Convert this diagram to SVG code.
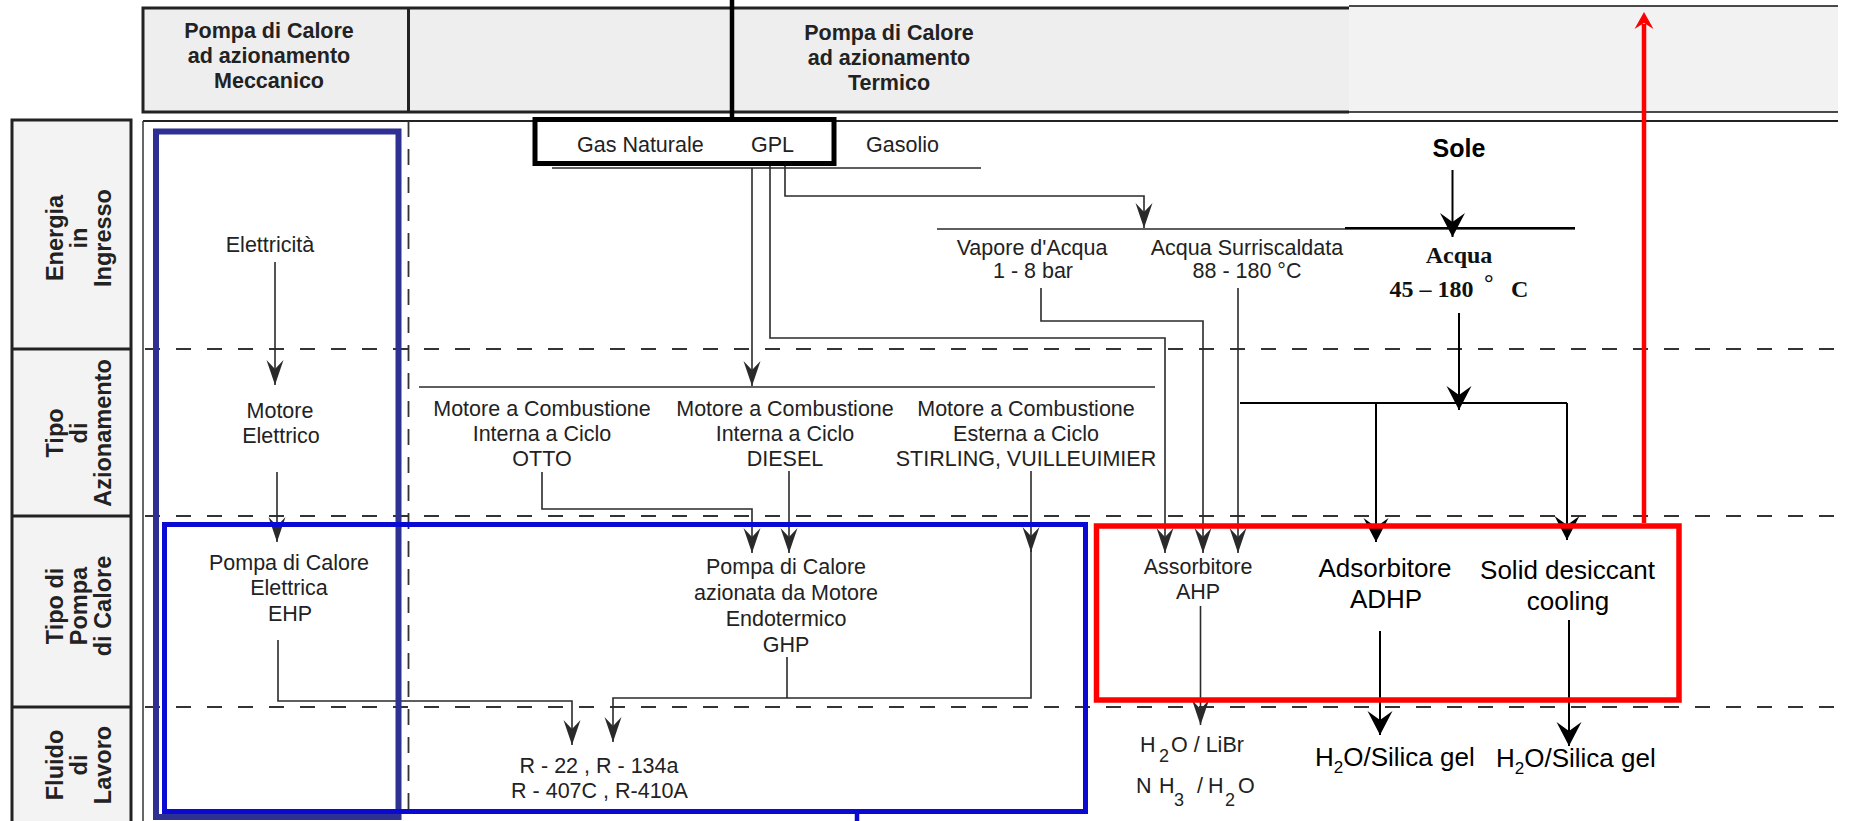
<svg xmlns="http://www.w3.org/2000/svg" width="1849" height="821" viewBox="0 0 1849 821">
<defs>
<style>
.t{font-family:"Liberation Sans",Arial,sans-serif;font-size:21.5px;fill:#222;text-anchor:middle}
.b{font-weight:bold}
.lb{font-family:"Liberation Sans",Arial,sans-serif;font-size:23.5px;font-weight:bold;fill:#222;text-anchor:middle}
.n{font-family:"Liberation Sans",Arial,sans-serif;font-size:26px;fill:#000;text-anchor:middle}
.ns{font-family:"Liberation Sans",Arial,sans-serif;font-size:26px;fill:#000}
.sr{font-family:"Liberation Serif","Times New Roman",serif;font-size:24px;font-weight:bold;fill:#111}
.ln{fill:none;stroke:#2a2a2a;stroke-width:1.6}
.lk{fill:none;stroke:#000;stroke-width:2}
.dh{fill:none;stroke:#333;stroke-width:1.8;stroke-dasharray:15 16}
.dv{fill:none;stroke:#333;stroke-width:1.8;stroke-dasharray:16 12}
.hd{fill:none;stroke:#222;stroke-width:3}
</style>
<marker id="ah" viewBox="-27 -10 29 20" refX="0" refY="0" markerWidth="29" markerHeight="20" markerUnits="userSpaceOnUse" orient="auto"><path d="M0,0 L-25,-8.5 L-16,0 L-25,8.5 Z" fill="#2a2a2a"/></marker>
<marker id="ak" viewBox="-26 -14 28 28" refX="0" refY="0" markerWidth="28" markerHeight="28" markerUnits="userSpaceOnUse" orient="auto"><path d="M0,0 L-24,-12.5 L-15,0 L-24,12.5 Z" fill="#000"/></marker>
<marker id="ar" viewBox="-20 -11 22 22" refX="-12" refY="0" markerWidth="22" markerHeight="22" markerUnits="userSpaceOnUse" orient="auto"><path d="M0,0 L-17,-9.5 L-11,0 L-17,9.5 Z" fill="#ff0000"/></marker>
</defs>
<rect width="1849" height="821" fill="#ffffff"/>

<!-- header -->
<g id="header">
<rect x="143" y="8" width="1206" height="104" fill="#eeeeee"/>
<rect x="1349" y="6" width="489" height="106" fill="#f2f2f2"/>
<path class="hd" d="M143,8 H1349 M143,112 H1349 M143,6.5 V113.5 M408.5,8 V112"/>
<path d="M1349,6 H1838 M1349,112 H1838" stroke="#111" stroke-width="1.6" fill="none"/>
<path d="M143,121 H1838" stroke="#222" stroke-width="2" fill="none"/>
<text class="t b" x="269" y="38">Pompa di Calore</text>
<text class="t b" x="269" y="63">ad azionamento</text>
<text class="t b" x="269" y="88">Meccanico</text>
<text class="t b" x="889" y="40">Pompa di Calore</text>
<text class="t b" x="889" y="65">ad azionamento</text>
<text class="t b" x="889" y="90">Termico</text>
</g>

<!-- row labels -->
<g id="labels">
<rect x="12" y="120" width="119" height="705" fill="#f3f3f3" stroke="#222" stroke-width="3"/>
<path d="M12,349 H131 M12,516 H131 M12,707 H131" stroke="#222" stroke-width="3" fill="none"/>
<g transform="translate(0,238) rotate(-90)">
<text class="lb" x="0" y="63">Energia</text><text class="lb" x="0" y="87">in</text><text class="lb" x="0" y="111">Ingresso</text>
</g>
<g transform="translate(0,433) rotate(-90)">
<text class="lb" x="0" y="63">Tipo</text><text class="lb" x="0" y="87">di</text><text class="lb" x="0" y="111">Azionamento</text>
</g>
<g transform="translate(0,606) rotate(-90)">
<text class="lb" x="0" y="63">Tipo di</text><text class="lb" x="0" y="87">Pompa</text><text class="lb" x="0" y="111">di Calore</text>
</g>
<g transform="translate(0,765) rotate(-90)">
<text class="lb" x="0" y="63">Fluido</text><text class="lb" x="0" y="87">di</text><text class="lb" x="0" y="111">Lavoro</text>
</g>
</g>

<!-- grid -->
<g id="grid">
<path d="M143,121 V821" stroke="#333" stroke-width="1.5" fill="none"/>
<path class="dv" d="M408.5,121 V821"/>
<path class="dh" d="M145,349 H1834 M145,516 H1834 M145,707 H1834"/>
</g>

<!-- connectors -->
<g id="connectors">
<path class="ln" d="M552,168 H981"/>
<path class="ln" d="M937,229 H1575"/>
<path class="ln" d="M419,387 H1155"/>
<path class="ln" d="M752,168 V386" marker-end="url(#ah)"/>
<path class="ln" d="M770,166 V338 H1165 V553" marker-end="url(#ah)"/>
<path class="ln" d="M785,166 V196 H1144 V228" marker-end="url(#ah)"/>
<path class="ln" d="M1041,288 V321 H1203 V553" marker-end="url(#ah)"/>
<path class="ln" d="M1238,288 V553" marker-end="url(#ah)"/>
<path class="ln" d="M275,262 V385" marker-end="url(#ah)"/>
<path class="ln" d="M277,472 V542" marker-end="url(#ah)"/>
<path class="ln" d="M542,472 V509 H752 V553" marker-end="url(#ah)"/>
<path class="ln" d="M789,471 V553" marker-end="url(#ah)"/>
<path class="ln" d="M1031,471 V552" marker-end="url(#ah)"/>
<path class="ln" d="M1031,550 V698 H613 V742" marker-end="url(#ah)"/>
<path class="ln" d="M787,657 V698"/>
<path class="ln" d="M278,640 V701 H572 V745" marker-end="url(#ah)"/>
<path class="ln" d="M1200.5,606 V725" marker-end="url(#ah)"/>
<path class="lk" d="M1345,228 H1575"/>
<path class="lk" d="M1452.5,170 V237" marker-end="url(#ak)"/>
<path class="lk" d="M1459,313 V410" marker-end="url(#ak)"/>
<path class="lk" d="M1240,403 H1567"/>
<path class="lk" d="M1376,403 V542" marker-end="url(#ak)"/>
<path class="lk" d="M1567,403 V540" marker-end="url(#ak)"/>
<path class="lk" d="M1380,631 V735" marker-end="url(#ak)"/>
<path class="lk" d="M1569,620 V746" marker-end="url(#ak)"/>
<path d="M732,0 V119" stroke="#000" stroke-width="4.5" fill="none"/>
<path d="M1644,523 V24" stroke="#ff0000" stroke-width="4.5" fill="none" marker-end="url(#ar)"/>
</g>

<!-- nodes -->
<g id="n-gas">
<rect x="535" y="119.5" width="299" height="44" fill="none" stroke="#000" stroke-width="5"/>
<text class="t" x="577" y="152" style="text-anchor:start">Gas Naturale</text>
<text class="t" x="751" y="152" style="text-anchor:start">GPL</text>
</g>
<g id="n-gasolio"><text class="t" x="866" y="152" style="text-anchor:start">Gasolio</text></g>
<g id="n-elettricita"><text class="t" x="270" y="252">Elettricità</text></g>
<g id="n-vapore"><text class="t" x="1032" y="255">Vapore d'Acqua</text><text class="t" x="1033" y="278">1 - 8 bar</text></g>
<g id="n-acqua-surr"><text class="t" x="1247" y="255">Acqua Surriscaldata</text><text class="t" x="1247" y="278">88 - 180 °C</text></g>
<g id="n-sole"><text class="t b" x="1459" y="157" style="font-size:25px;fill:#000">Sole</text></g>
<g id="n-acqua">
<text class="sr" x="1459" y="263" text-anchor="middle">Acqua</text>
<text class="sr" x="1389.5" y="297">45 – 180</text>
<text class="sr" x="1484" y="291">°</text>
<text class="sr" x="1511" y="297">C</text>
</g>
<g id="n-motore-el"><text class="t" x="280" y="418">Motore</text><text class="t" x="281" y="443">Elettrico</text></g>
<g id="n-otto"><text class="t" x="542" y="416">Motore a Combustione</text><text class="t" x="542" y="441">Interna a Ciclo</text><text class="t" x="542" y="466">OTTO</text></g>
<g id="n-diesel"><text class="t" x="785" y="416">Motore a Combustione</text><text class="t" x="785" y="441">Interna a Ciclo</text><text class="t" x="785" y="466">DIESEL</text></g>
<g id="n-stirling"><text class="t" x="1026" y="416">Motore a Combustione</text><text class="t" x="1026" y="441">Esterna a Ciclo</text><text class="t" x="1026" y="466">STIRLING, VUILLEUIMIER</text></g>
<g id="n-ehp"><text class="t" x="289" y="570">Pompa di Calore</text><text class="t" x="289" y="595">Elettrica</text><text class="t" x="290" y="621">EHP</text></g>
<g id="n-ghp"><text class="t" x="786" y="574">Pompa di Calore</text><text class="t" x="786" y="600">azionata da Motore</text><text class="t" x="786" y="626">Endotermico</text><text class="t" x="786" y="652">GHP</text></g>
<g id="n-ahp"><text class="t" x="1198" y="574">Assorbitore</text><text class="t" x="1198" y="599">AHP</text></g>
<g id="n-adhp"><text class="n" x="1385" y="577">Adsorbitore</text><text class="n" x="1386" y="608">ADHP</text></g>
<g id="n-solid"><text class="n" x="1567.5" y="579">Solid desiccant</text><text class="n" x="1568" y="610">cooling</text></g>
<g id="n-refrig"><text class="t" x="599" y="773">R - 22 , R - 134a</text><text class="t" x="599.5" y="798">R - 407C , R-410A</text></g>
<g id="n-libr">
<text class="t" style="text-anchor:start" x="1140" y="752">H<tspan x="1159" y="762" style="font-size:18px">2</tspan><tspan x="1171" y="752">O / LiBr</tspan></text>
<text class="t" style="text-anchor:start" x="1136" y="793">N<tspan x="1159" y="793">H</tspan><tspan x="1174" y="806" style="font-size:18px">3</tspan><tspan x="1197" y="793">/</tspan><tspan x="1208" y="793">H</tspan><tspan x="1225" y="806" style="font-size:18px">2</tspan><tspan x="1238" y="793">O</tspan></text>
</g>
<g id="n-silica1"><text class="ns" x="1315" y="766">H<tspan dy="7" style="font-size:17px">2</tspan><tspan dy="-7">O/Silica gel</tspan></text></g>
<g id="n-silica2"><text class="ns" x="1496" y="767">H<tspan dy="7" style="font-size:17px">2</tspan><tspan dy="-7">O/Silica gel</tspan></text></g>

<!-- grouping boxes -->
<g id="box-meccanico"><rect x="156" y="131.5" width="242.5" height="685.5" fill="none" stroke="#2e3192" stroke-width="6"/></g>
<g id="box-endotermico">
<rect x="164.5" y="524.5" width="921" height="287" fill="none" stroke="#0a0ad2" stroke-width="5"/>
<path d="M857,811 V821" stroke="#0a0ad2" stroke-width="4.5"/>
</g>
<g id="box-termico"><rect x="1096.5" y="526" width="582.5" height="174" fill="none" stroke="#ff0000" stroke-width="5.5"/></g>
</svg>
